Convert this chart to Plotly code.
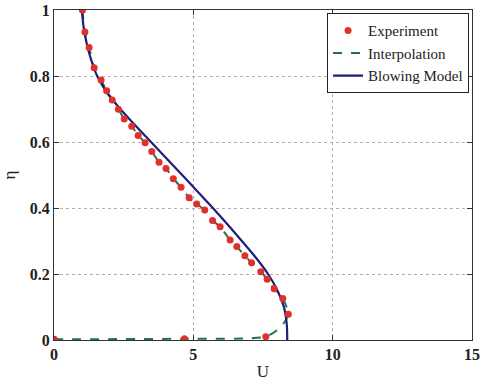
import plotly.graph_objects as go

# Experiment data (U, eta)
exp_U = [1.02, 1.11, 1.26, 1.44, 1.69, 1.89, 2.09, 2.31, 2.52, 2.79, 3.02, 3.27, 3.51, 3.77,
         4.02, 4.28, 4.56, 4.85, 5.12, 5.41, 5.69, 5.96, 6.32, 6.56, 6.85, 7.09, 7.42, 7.65,
         7.90, 8.21, 8.41, 7.60, 4.68, 0.01]
exp_eta = [1.0, 0.933, 0.886, 0.825, 0.788, 0.755, 0.727, 0.699, 0.670, 0.648, 0.620, 0.598,
           0.571, 0.539, 0.520, 0.489, 0.463, 0.431, 0.412, 0.394, 0.362, 0.343, 0.303, 0.283,
           0.255, 0.234, 0.207, 0.184, 0.155, 0.126, 0.078, 0.010, 0.004, 0.002]

# Interpolation curve (passes through data)
interp_U = [1.02, 1.11, 1.26, 1.44, 1.69, 1.89, 2.09, 2.31, 2.52, 2.79, 3.02, 3.27, 3.51, 3.77,
            4.02, 4.28, 4.56, 4.85, 5.12, 5.41, 5.69, 5.96, 6.32, 6.56, 6.85, 7.09, 7.42, 7.65,
            7.90, 8.21, 8.41, 8.15, 7.60, 4.68, 0.01]
interp_eta = [1.0, 0.933, 0.886, 0.825, 0.788, 0.755, 0.727, 0.699, 0.670, 0.648, 0.620, 0.598,
              0.571, 0.539, 0.520, 0.489, 0.463, 0.431, 0.412, 0.394, 0.362, 0.343, 0.303, 0.283,
              0.255, 0.234, 0.207, 0.184, 0.155, 0.126, 0.078, 0.040, 0.010, 0.004, 0.002]

# Blowing model curve
model_eta = [1.0, 0.95, 0.9, 0.85, 0.8, 0.75, 0.7, 0.65, 0.6, 0.55, 0.5, 0.45, 0.4, 0.35, 0.3,
             0.25, 0.2, 0.15, 0.1, 0.05, 0.0]
model_U = [1.0, 1.06, 1.17, 1.33, 1.55, 1.9, 2.38, 2.92, 3.48, 4.04, 4.6, 5.15, 5.7, 6.23, 6.74,
           7.24, 7.68, 8.02, 8.25, 8.35, 8.37]

x_ticks = [0, 5, 10, 15]
x_ticklabels = ["<b>0</b>", "<b>5</b>", "<b>10</b>", "<b>15</b>"]
y_ticks = [0, 0.2, 0.4, 0.6, 0.8, 1]
y_ticklabels = ["<b>0</b>", "<b>0.2</b>", "<b>0.4</b>", "<b>0.6</b>", "<b>0.8</b>", "<b>1</b>"]

font_family = "Liberation Serif"

fig = go.Figure()
fig.add_trace(go.Scatter(x=interp_U, y=interp_eta, mode="lines", name="Interpolation",
                         line=dict(color="#24704a", width=2, dash="dash", shape="spline", smoothing=0.6),
                         showlegend=False))
fig.add_trace(go.Scatter(x=model_U, y=model_eta, mode="lines", name="Blowing Model",
                         line=dict(color="#1c1f7a", width=2.2, shape="spline", smoothing=1.0),
                         showlegend=False))
fig.add_trace(go.Scatter(x=exp_U, y=exp_eta, mode="markers", name="Experiment",
                         marker=dict(color="#e0302c", size=7, line=dict(width=0)),
                         showlegend=False))
# legend entries in order
fig.add_trace(go.Scatter(x=[None], y=[None], mode="markers", name="Experiment",
                         marker=dict(color="#e0302c", size=7)))
fig.add_trace(go.Scatter(x=[None], y=[None], mode="lines", name="Interpolation",
                         line=dict(color="#24704a", width=2, dash="dash")))
fig.add_trace(go.Scatter(x=[None], y=[None], mode="lines", name="Blowing Model",
                         line=dict(color="#1c1f7a", width=2.2)))

axis_common = dict(
    showline=True, linecolor="#333333", linewidth=1, mirror="ticks",
    ticks="inside", ticklen=5, tickcolor="#333333",
    showgrid=True, gridcolor="#b0b0b0", griddash="dot", gridwidth=1,
    zeroline=False, automargin=False,
    tickfont=dict(family=font_family, size=16, color="#222222"),
)

fig.update_layout(
    width=482, height=381,
    margin=dict(l=54, r=10, t=10, b=41),
    paper_bgcolor="white", plot_bgcolor="white",
    font=dict(family=font_family, size=16, color="#222222"),
    xaxis=dict(range=[0, 15], tickvals=x_ticks, ticktext=x_ticklabels, **axis_common,
               title=dict(text="U", font=dict(family=font_family, size=17), standoff=8)),
    yaxis=dict(range=[0, 1], tickvals=y_ticks, ticktext=y_ticklabels, **axis_common,
               title=dict(text="η", font=dict(family=font_family, size=17), standoff=10)),
    legend=dict(x=0.993, y=0.99, xanchor="right", yanchor="top",
                bgcolor="white", bordercolor="#222222", borderwidth=1,
                font=dict(family=font_family, size=15, color="#222222"),
                tracegroupgap=0, itemwidth=30),
)

fig.write_html("out.html")
